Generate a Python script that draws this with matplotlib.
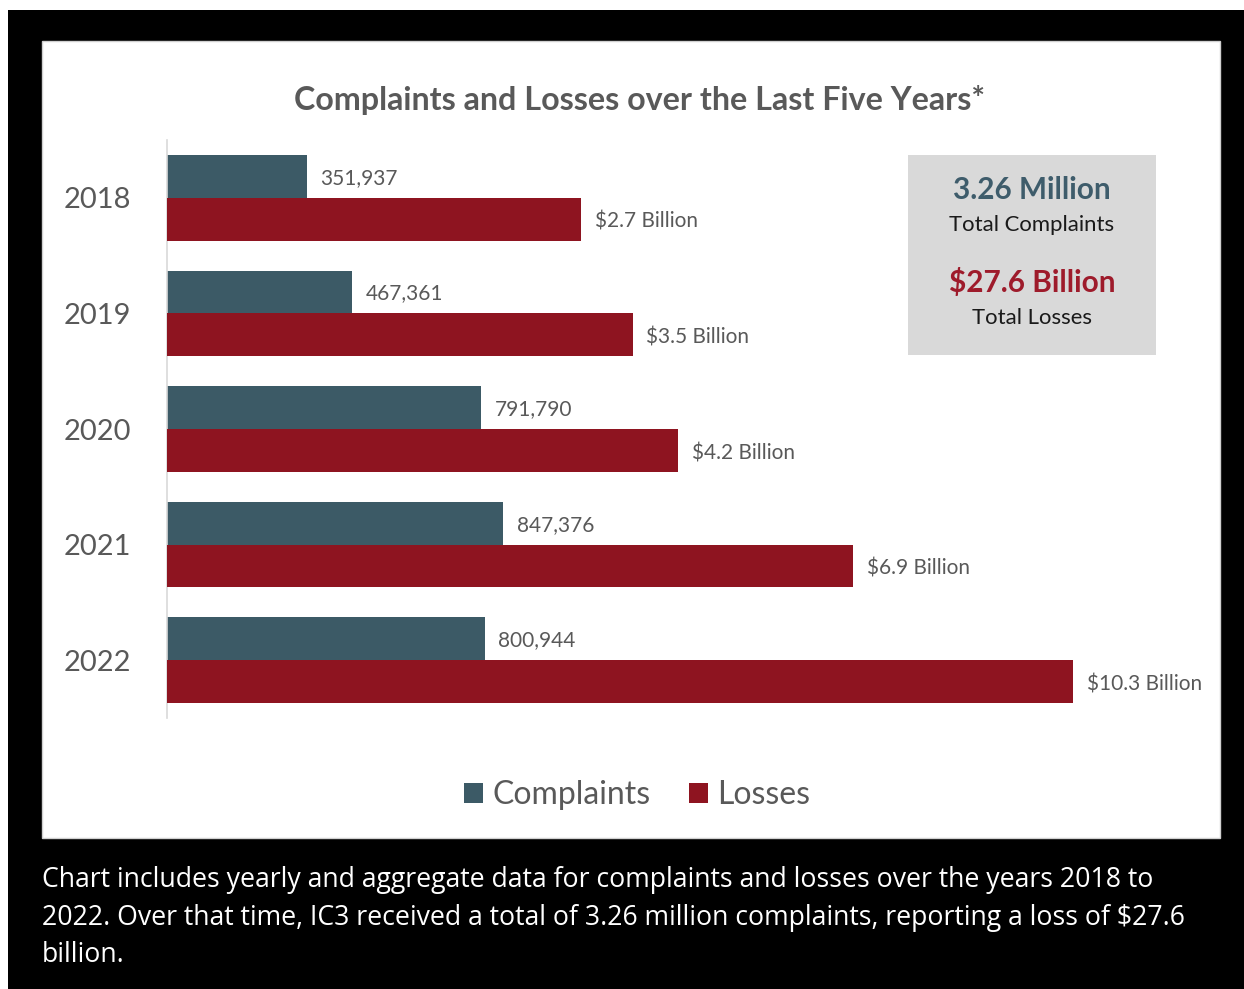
import matplotlib.pyplot as plt
import numpy as np
from matplotlib.patches import Rectangle

plt.rcParams['text.parse_math'] = False

# chart data
years = ["2018", "2019", "2020", "2021", "2022"]
complaints = [351937, 467361, 791790, 847376, 800944]
losses = [2.7, 3.5, 4.2, 6.9, 10.3]  # billion dollars
loss_labels = ["$2.7 Billion", "$3.5 Billion", "$4.2 Billion", "$6.9 Billion", "$10.3 Billion"]
series_names = ["Complaints", "Losses"]
total_complaints = "3.26 Million"
total_losses = "$27.6 Billion"
title = "Complaints and Losses over the Last Five Years*"
caption = ("Chart includes yearly and aggregate data for complaints and losses over the years 2018 to\n"
           "2022. Over that time, IC3 received a total of 3.26 million complaints, reporting a loss of $27.6\n"
           "billion.")

BLUE = "#3c5a66"
RED = "#8e1420"
GREY_TXT = "#595959"
W, H = 1244, 989


def fx(px):
    return px / W


def fy(py):
    return 1 - py / H


def main():
    fig = plt.figure(figsize=(W / 100, H / 100), dpi=100, facecolor="white")

    # black frame and white chart panel
    fig.patches.append(Rectangle((fx(8), 0), 1 - fx(8), fy(10), transform=fig.transFigure,
                                 facecolor="black", edgecolor="none", zorder=-10))
    fig.patches.append(Rectangle((fx(42), fy(838)), fx(1220) - fx(42), fy(41) - fy(838),
                                 transform=fig.transFigure, facecolor="white",
                                 edgecolor="#d0d0d0", linewidth=1, zorder=-9))

    ax = fig.add_axes([fx(167), fy(718), fx(1190) - fx(167), fy(140) - fy(718)])
    ax.set_facecolor("none")
    ax2 = ax.twiny()

    pos = np.arange(len(years))
    h = 0.37

    ax.barh(pos - h / 2, complaints, height=h, color=BLUE, label=series_names[0])
    ax.set_xlim(0, 2.58e6)

    # the losses bars in the original use their own (offset) scale
    loss_lim = (-3.69, 12.11)
    ax2.barh(pos + h / 2, np.array(losses) - loss_lim[0], left=loss_lim[0], height=h,
             color=RED, label=series_names[1])
    ax2.set_xlim(*loss_lim)

    for a in (ax, ax2):
        a.set_ylim(4.5, -0.5)
        for s in a.spines.values():
            s.set_visible(False)
        a.set_xticks([])
    ax.spines["left"].set_visible(True)
    ax.spines["left"].set_color("#d9d9d9")
    ax.spines["left"].set_linewidth(1.2)

    ax.set_yticks(pos)
    ax.set_yticklabels(years, fontsize=21, color=GREY_TXT, family="Lato")
    ax.tick_params(axis="y", length=0, pad=26)

    for p, v in zip(pos, complaints):
        ax.annotate(f"{v:,}", (v, p - h / 2), xytext=(10, -1), textcoords="offset points",
                    va="center", ha="left", fontsize=15, color=GREY_TXT, family="Lato")
    for p, v, lab in zip(pos, losses, loss_labels):
        ax2.annotate(lab, (v, p + h / 2), xytext=(10, -2), textcoords="offset points",
                     va="center", ha="left", fontsize=15, color=GREY_TXT, family="Lato")

    fig.text(fx(639), fy(100), title, ha="center", va="center", fontsize=23.2,
             fontweight="bold", color=GREY_TXT, family="Lato")

    # totals box
    fig.patches.append(Rectangle((fx(908), fy(355)), fx(1156) - fx(908), fy(155) - fy(355),
                                 transform=fig.transFigure, facecolor="#d9d9d9",
                                 edgecolor="none", zorder=-5))
    fig.text(fx(1032), fy(190), total_complaints, ha="center", va="center", fontsize=21.4,
             fontweight="bold", color="#3e5c6b", family="Lato")
    fig.text(fx(1032), fy(225), "Total Complaints", ha="center", va="center", fontsize=15.9,
             color="#1a1a1a", family="Lato")
    fig.text(fx(1032), fy(283), total_losses, ha="center", va="center", fontsize=21.4,
             fontweight="bold", color="#9e1b2b", family="Lato")
    fig.text(fx(1032), fy(318), "Total Losses", ha="center", va="center", fontsize=15.9,
             color="#1a1a1a", family="Lato")

    handles = ax.get_legend_handles_labels()[0] + ax2.get_legend_handles_labels()[0]
    fig.legend(handles, series_names, loc="center", bbox_to_anchor=(fx(637), fy(795)),
               ncol=2, frameon=False, handlelength=0.6, handleheight=0.6,
               handletextpad=0.3, columnspacing=1.2,
               prop={"family": "Lato", "size": 23}, labelcolor=GREY_TXT)

    fig.text(fx(42), fy(866), caption, ha="left", va="top", fontsize=19.2, color="white",
             family="Open Sans", linespacing=1.46)

    fig.savefig("out.png", dpi=100, facecolor=fig.get_facecolor())


if __name__ == '__main__':
    main()
